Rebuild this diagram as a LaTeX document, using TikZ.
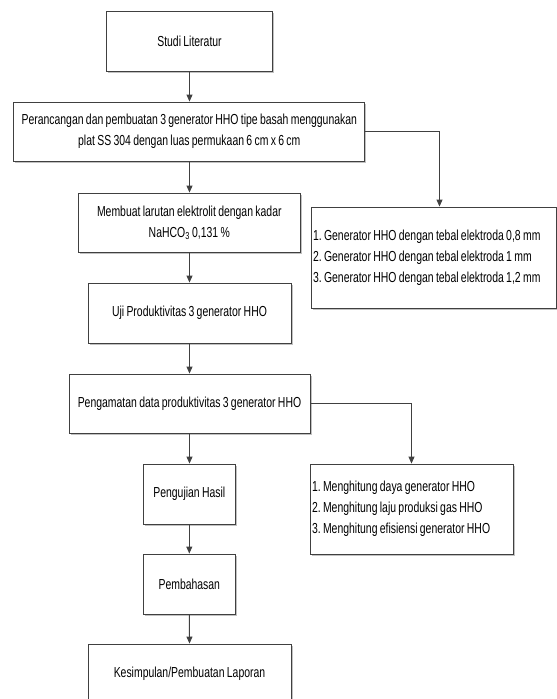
\documentclass[tikz,border=0pt]{standalone}
\usepackage{fontspec}
\setmainfont{Liberation Sans}[FakeStretch=0.72, WordSpace=0.8]
\usetikzlibrary{shadows,arrows.meta}
\definecolor{ln}{HTML}{404040}
\frenchspacing
\begin{document}
\begin{tikzpicture}[x=1pt,y=-1pt,
  font=\fontsize{14.5}{21}\selectfont,
  box/.style={draw=ln, line width=0.9pt, fill=white, align=center, inner sep=2pt,
    drop shadow={shadow xshift=1.6pt, shadow yshift=-1.6pt, fill=black!30, opacity=0.8}},
  arr/.style={draw=ln, line width=0.9pt, -{Triangle[length=7pt,width=6pt]}}]
\useasboundingbox (0,0) rectangle (557,699);
\node[box, minimum width=166pt, minimum height=60pt] (s1) at (189.5,41) {Studi Literatur};
\node[box, minimum width=351pt, minimum height=59pt] (s2) at (189.3,131.5)
  {Perancangan dan pembuatan 3 generator HHO tipe basah menggunakan\\plat SS 304 dengan luas permukaan 6 cm x 6 cm};
\node[box, minimum width=222pt, minimum height=59pt] (s3) at (189.3,222.5)
  {Membuat larutan elektrolit dengan kadar\\NaHCO\textsubscript{3} 0,131 \%};
\node[box, minimum width=245pt, minimum height=101pt, text width=241pt, align=flush left] (r1) at (433.5,257.5)
  {1. Generator HHO dengan tebal elektroda 0,8 mm\\2. Generator HHO dengan tebal elektroda 1 mm\\3. Generator HHO dengan tebal elektroda 1,2 mm};
\node[box, minimum width=203pt, minimum height=60pt] (s4) at (189.5,313) {Uji Produktivitas 3 generator HHO};
\node[box, minimum width=241pt, minimum height=59pt] (s5) at (189.5,403.5) {Pengamatan data produktivitas 3 generator HHO};
\node[box, minimum width=203pt, minimum height=90pt, text width=199pt, align=flush left] (r2) at (411.5,509)
  {1. Menghitung daya generator HHO\\2. Menghitung laju produksi gas HHO\\3. Menghitung efisiensi generator HHO};
\node[box, minimum width=92.5pt, minimum height=60pt] (s6) at (189.3,494) {Pengujian Hasil};
\node[box, minimum width=92.5pt, minimum height=60pt] (s7) at (189.3,584) {Pembahasan};
\node[box, minimum width=203pt, minimum height=60pt] (s8) at (189.5,674) {Kesimpulan/Pembuatan Laporan};
\draw[arr] (s1.south) -- (s1.south |- s2.north);
\draw[arr] (s1.south |- s2.south) -- (s1.south |- s3.north);
\draw[arr] (s1.south |- s3.south) -- (s1.south |- s4.north);
\draw[arr] (s1.south |- s4.south) -- (s1.south |- s5.north);
\draw[arr] (s1.south |- s5.south) -- (s1.south |- s6.north);
\draw[arr] (s6.south) -- (s7.north);
\draw[arr] (s7.south) -- (s8.north);
\coordinate (k1) at ([xshift=6pt]r1.north);
\draw[arr] (s2.east) -| (k1);
\draw[arr] (s5.east) -| (r2.north);
\end{tikzpicture}
\end{document}
